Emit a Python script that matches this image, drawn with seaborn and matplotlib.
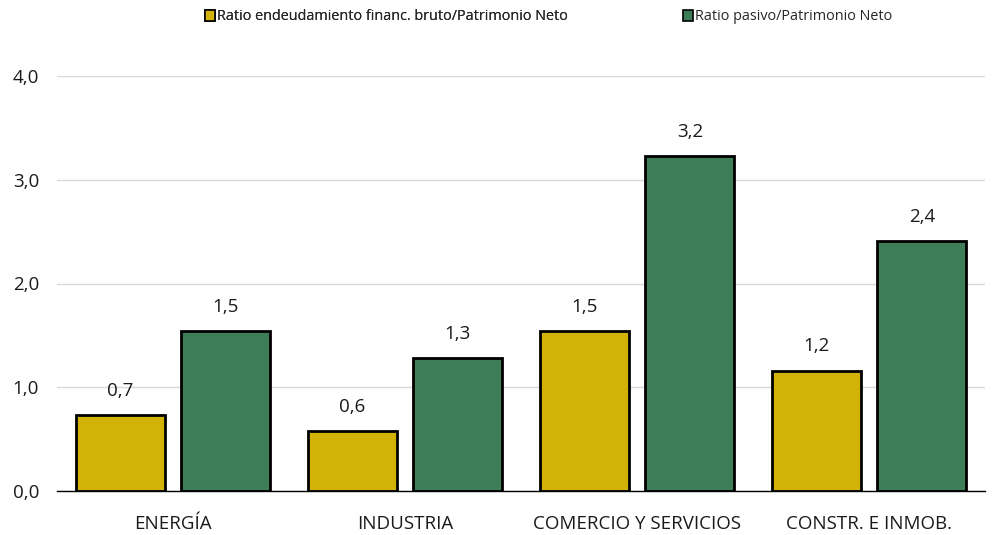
import numpy as np
import pandas as pd
import matplotlib.pyplot as plt
import seaborn as sns
from matplotlib.ticker import FixedLocator

sectors = ["ENERGÍA", "INDUSTRIA", "COMERCIO Y SERVICIOS", "CONSTR. E INMOB."]
series_names = [
    "Ratio endeudamiento financ. bruto/Patrimonio Neto",
    "Ratio pasivo/Patrimonio Neto",
]
ratio_deuda = [0.73, 0.58, 1.54, 1.16]
ratio_pasivo = [1.54, 1.28, 3.23, 2.41]
colors = ["#D3B208", "#3D7D58"]

df = pd.DataFrame({
    "sector": sectors * 2,
    "serie": [series_names[0]] * 4 + [series_names[1]] * 4,
    "valor": ratio_deuda + ratio_pasivo,
})

sns.set_style("white")
plt.rcParams["font.family"] = ["Open Sans", "DejaVu Sans"]

fig = plt.figure(figsize=(9.95, 5.35), dpi=100)
ax = fig.add_axes([57 / 995, 44 / 535, 928 / 995, 415 / 535])

sns.barplot(
    data=df, x="sector", y="valor", hue="serie",
    palette=colors, saturation=1, width=0.91, gap=0.16,
    edgecolor="black", linewidth=2, legend=False, ax=ax,
)

for container in ax.containers:
    labels = [f"{v:.1f}".replace(".", ",") for v in container.datavalues]
    ax.bar_label(container, labels=labels, padding=11, fontsize=13.5,
                 color="#1a1a1a")

ax.set_ylim(0, 4)
ax.set_xlim(-0.5, 3.5)
ax.set_yticks([0, 1, 2, 3, 4])
ax.set_yticklabels([f"{v:.1f}".replace(".", ",") for v in [0, 1, 2, 3, 4]])
ax.yaxis.grid(True, color="#D9D9D9", linewidth=1)
ax.set_axisbelow(True)
ax.set_xlabel("")
ax.set_ylabel("")

for s in ["left", "right", "top"]:
    ax.spines[s].set_visible(False)
ax.spines["bottom"].set_color("black")
ax.spines["bottom"].set_linewidth(1)

ax.tick_params(axis="y", length=0, labelsize=13.5, pad=13, labelcolor="#1a1a1a")
ax.tick_params(axis="x", which="major", length=0, labelsize=13.5, pad=17,
               labelcolor="#1a1a1a")
ax.xaxis.set_minor_locator(FixedLocator([-0.5, 0.5, 1.5, 2.5, 3.5]))
ax.tick_params(axis="x", which="minor", length=5, width=0.8, color="#888888")

# Legend
handles = [
    plt.Rectangle((0, 0), 1, 1, facecolor=c, edgecolor="black", linewidth=1.2)
    for c in colors
]
leg1 = fig.legend(
    handles[:1], series_names[:1], loc="center left",
    bbox_to_anchor=(192 / 995, 1 - 17 / 535), frameon=False,
    fontsize=10.4, handlelength=0.7, handleheight=0.7, handletextpad=0.15,
)
fig.legend(
    handles[1:], series_names[1:], loc="center left",
    bbox_to_anchor=(670 / 995, 1 - 17 / 535), frameon=False,
    fontsize=10.4, handlelength=0.7, handleheight=0.7, handletextpad=0.15,
)
fig.add_artist(leg1)

fig.savefig("out.png", dpi=100)
